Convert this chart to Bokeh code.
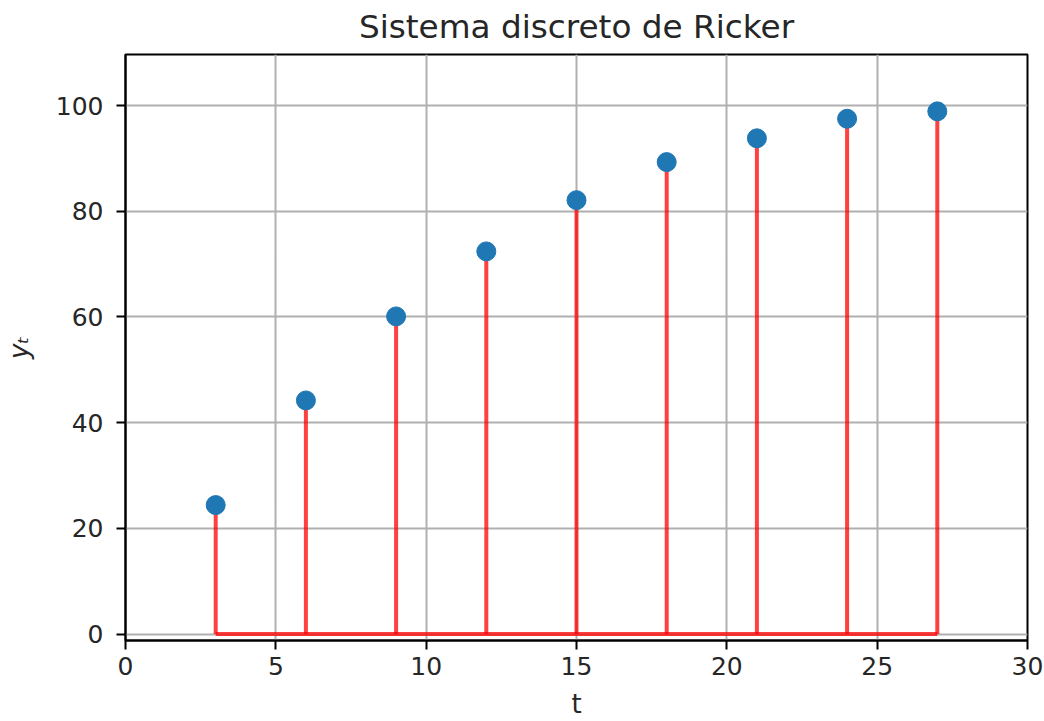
from bokeh.plotting import figure
from bokeh.models import Range1d, FixedTicker
from bokeh.embed import file_html
from bokeh.resources import INLINE

# Data
t_vals = [3, 6, 9, 12, 15, 18, 21, 24, 27]
y_vals = [24.4, 44.2, 60.1, 72.4, 82.1, 89.3, 93.8, 97.5, 98.9]
x_ticks = [0, 5, 10, 15, 20, 25, 30]
y_ticks = [0, 20, 40, 60, 80, 100]
title_text = "Sistema discreto de Ricker"
x_label = "t"
y_label = "yₜ"

FONT = "DejaVu Sans"

p = figure(width=1044, height=721, output_backend="svg", toolbar_location=None,
           title=title_text,
           x_range=Range1d(0, 30), y_range=Range1d(-1.23, 109.66),
           min_border_left=124, min_border_right=17, min_border_top=54, min_border_bottom=81)

p.title.text_font = FONT
p.title.text_font_size = "32.7px"
p.title.text_font_style = "normal"
p.title.text_color = "#262626"
p.title.align = "center"
p.title.vertical_align = "top"
p.title.standoff = 14

p.outline_line_color = "black"
p.outline_line_width = 2
p.outline_line_alpha = 1

for ax in (p.xaxis, p.yaxis):
    ax.axis_line_width = 2
    ax.axis_line_color = "black"
    ax.major_tick_line_width = 2
    ax.major_tick_line_color = "black"
    ax.major_tick_out = 9
    ax.major_tick_in = 0
    ax.minor_tick_line_color = None
    ax.major_label_text_font = FONT
    ax.major_label_text_font_size = "25px"
    ax.major_label_text_color = "#262626"
    ax.axis_label_text_font = FONT
    ax.axis_label_text_font_size = "26px"
    ax.axis_label_text_color = "#262626"
    ax.axis_label_text_font_style = "normal"

p.xaxis.ticker = FixedTicker(ticks=x_ticks)
p.yaxis.ticker = FixedTicker(ticks=y_ticks)
p.xaxis.axis_label = x_label
p.yaxis.axis_label = y_label
p.yaxis.axis_label_text_font_style = "italic"
p.xaxis.major_label_standoff = 7
p.xaxis.axis_label_standoff = 11
p.yaxis.major_label_standoff = 13
p.yaxis.axis_label_standoff = 19

p.grid.grid_line_color = "#b0b0b0"
p.grid.grid_line_width = 2

# Stems
p.segment(x0=t_vals, y0=[0] * len(t_vals), x1=t_vals, y1=y_vals,
          line_color="red", line_alpha=0.75, line_width=4)
# Baseline
p.line(x=[min(t_vals), max(t_vals)], y=[0, 0], line_color="red", line_alpha=0.75, line_width=4)
# Markers
p.scatter(x=t_vals, y=y_vals, size=19, fill_color="#1f77b4", line_color="#1f77b4")

open("out.html", "w").write(file_html(p, INLINE))
